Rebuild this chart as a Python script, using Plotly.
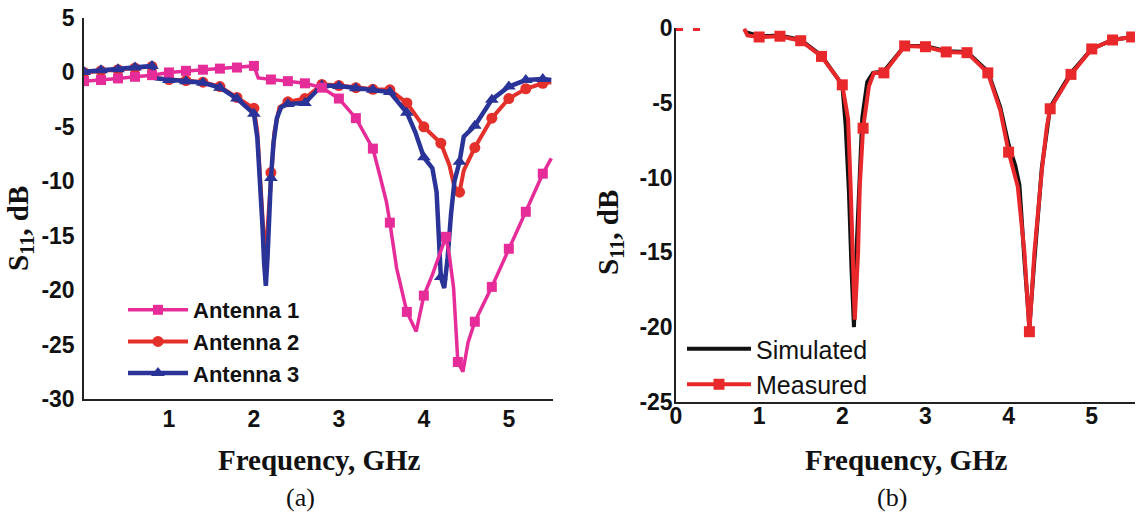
import plotly.graph_objects as go

# ---------------- (a) three antenna prototypes ----------------
a1_f = [0.0, 0.2, 0.4, 0.6, 0.8, 1.0, 1.2, 1.4, 1.6, 1.8, 2.0, 2.05, 2.2, 2.4, 2.6, 2.8, 3.0, 3.2,
        3.4, 3.48, 3.56, 3.6, 3.68, 3.8, 3.91, 4.0, 4.1, 4.2, 4.26, 4.3, 4.35, 4.4, 4.46, 4.52,
        4.6, 4.8, 5.0, 5.2, 5.4, 5.5]
a1_db = [-0.8, -0.7, -0.55, -0.4, -0.25, 0.0, 0.15, 0.25, 0.35, 0.45, 0.6, -0.5, -0.65, -0.8,
         -1.0, -1.4, -2.4, -4.2, -7.0, -9.4, -11.9, -13.8, -18.0, -22.0, -23.8, -20.5, -18.6,
         -16.4, -15.1, -16.8, -19.8, -26.6, -27.5, -24.8, -22.9, -19.7, -16.2, -12.8, -9.3, -7.9]
a1_mark_f = [0.0, 0.2, 0.4, 0.6, 0.8, 1.0, 1.2, 1.4, 1.6, 1.8, 2.0, 2.2, 2.4, 2.6, 2.8, 3.0,
             3.2, 3.4, 3.6, 3.8, 4.0, 4.26, 4.4, 4.6, 4.8, 5.0, 5.2, 5.4]

a2_f = [0.0, 0.2, 0.4, 0.6, 0.8, 0.85, 1.0, 1.2, 1.4, 1.6, 1.8, 2.0, 2.04, 2.07, 2.1, 2.13,
        2.15, 2.18, 2.2, 2.24, 2.3, 2.4, 2.6, 2.8, 3.0, 3.2, 3.4, 3.6, 3.8, 4.0, 4.2, 4.3,
        4.36, 4.42, 4.47, 4.6, 4.8, 5.0, 5.2, 5.4, 5.5]
a2_db = [0.0, 0.15, 0.25, 0.4, 0.55, -0.5, -0.65, -0.75, -0.9, -1.3, -2.3, -3.3, -5.5, -9.0,
         -13.5, -17.0, -15.5, -12.0, -9.2, -5.5, -3.2, -2.7, -2.4, -1.1, -1.2, -1.4, -1.55,
         -1.6, -2.8, -5.0, -6.5, -8.5, -10.5, -11.0, -9.0, -6.9, -4.2, -2.4, -1.5, -1.0, -0.9]
a2_mark_f = [0.0, 0.2, 0.4, 0.6, 0.8, 1.0, 1.2, 1.4, 1.6, 1.8, 2.0, 2.2, 2.4, 2.6, 2.8, 3.0,
             3.2, 3.4, 3.6, 3.8, 4.0, 4.2, 4.42, 4.6, 4.8, 5.0, 5.2, 5.4]

a3_f = [0.0, 0.2, 0.4, 0.6, 0.8, 0.85, 1.0, 1.2, 1.4, 1.6, 1.8, 2.0, 2.04, 2.07, 2.1, 2.12,
        2.14, 2.16, 2.18, 2.2, 2.23, 2.27, 2.32, 2.4, 2.6, 2.8, 3.0, 3.2, 3.4, 3.6, 3.8, 3.9,
        4.0, 4.1, 4.15, 4.2, 4.24, 4.28, 4.32, 4.36, 4.42, 4.47, 4.6, 4.8, 5.0, 5.2, 5.4, 5.5]
a3_db = [0.05, 0.2, 0.3, 0.45, 0.6, -0.55, -0.7, -0.8, -0.95, -1.4, -2.4, -3.8, -6.0, -9.5,
         -14.0, -17.5, -19.6, -17.0, -13.0, -9.7, -6.5, -4.2, -3.2, -2.9, -2.8, -1.2, -1.25,
         -1.45, -1.6, -1.8, -3.7, -5.5, -7.8, -8.8, -11.0, -18.8, -19.8, -17.0, -13.0, -10.0,
         -8.2, -5.9, -4.9, -2.5, -1.3, -0.7, -0.6, -0.7]
a3_mark_f = [0.0, 0.2, 0.4, 0.6, 0.8, 1.0, 1.2, 1.4, 1.6, 1.8, 2.0, 2.2, 2.4, 2.6, 2.8, 3.0,
             3.2, 3.4, 3.6, 3.8, 4.0, 4.2, 4.42, 4.6, 4.8, 5.0, 5.2, 5.4]

# ---------------- (b) simulated vs measured ----------------
sim_f = [0.85, 1.0, 1.25, 1.5, 1.75, 2.0, 2.04, 2.08, 2.11, 2.14, 2.17, 2.2, 2.24, 2.3, 2.37,
         2.5, 2.75, 3.0, 3.25, 3.5, 3.75, 3.9, 4.0, 4.08, 4.13, 4.19, 4.25, 4.31, 4.4, 4.5,
         4.75, 5.0, 5.25, 5.48]
sim_db = [-0.3, -0.55, -0.5, -0.8, -1.85, -3.8, -6.5, -11.0, -16.0, -20.0, -15.0, -10.5, -6.0,
          -3.6, -3.0, -2.9, -1.2, -1.2, -1.55, -1.6, -2.9, -5.3, -7.8, -9.2, -10.5, -15.5,
          -20.0, -15.5, -9.3, -5.3, -3.0, -1.4, -0.8, -0.6]

meas_f = [0.82, 0.86, 1.0, 1.25, 1.5, 1.75, 2.0, 2.07, 2.1, 2.13, 2.15, 2.19, 2.21, 2.25, 2.32,
          2.38, 2.5, 2.75, 3.0, 3.25, 3.5, 3.75, 3.9, 4.0, 4.11, 4.19, 4.25, 4.31, 4.4, 4.46,
          4.5, 4.75, 5.0, 5.25, 5.48]
meas_db = [-0.05, -0.5, -0.6, -0.55, -0.85, -1.9, -3.8, -6.1, -10.6, -16.2, -19.5, -15.0, -10.6,
           -6.7, -3.9, -3.0, -3.0, -1.2, -1.25, -1.6, -1.65, -3.0, -5.5, -8.3, -10.6, -15.0,
           -20.3, -15.0, -9.5, -6.6, -5.4, -3.1, -1.4, -0.8, -0.6]
meas_mark_f = [1.0, 1.25, 1.5, 1.75, 2.0, 2.25, 2.5, 2.75, 3.0, 3.25, 3.5, 3.75, 4.0, 4.25,
               4.5, 4.75, 5.0, 5.25, 5.48]
meas_low_f = [0.0, 0.32]
meas_low_db = [-0.1, -0.1]

left_xticks = [1, 2, 3, 4, 5]
right_xticks = [0, 1, 2, 3, 4, 5]
left_yticks = [5, 0, -5, -10, -15, -20, -25, -30]
right_yticks = [0, -5, -10, -15, -20, -25]

PINK = "#E62C99"
RED = "#E3302B"
BLUE = "#2A3397"
MRED = "#E8282A"


def pick(fs, dbs, marks):
    lookup = dict(zip(fs, dbs))
    return marks, [lookup[m] for m in marks]


def labels(vals):
    # plain hyphen-minus for negative tick labels
    return [str(v) for v in vals]


fig = go.Figure()

series_a = [
    ("Antenna 2", a2_f, a2_db, a2_mark_f, RED, "circle", 4, 11),
    ("Antenna 3", a3_f, a3_db, a3_mark_f, BLUE, "triangle-up", 4.5, 12),
    ("Antenna 1", a1_f, a1_db, a1_mark_f, PINK, "square", 3.5, 10),
]
styles = {}
for name, fs, dbs, marks, col, sym, lw, ms in series_a:
    styles[name] = (col, sym, lw, ms)
    fig.add_trace(go.Scatter(x=fs, y=dbs, mode="lines", line=dict(color=col, width=lw),
                             showlegend=False, xaxis="x", yaxis="y", hoverinfo="skip"))
    mx, my = pick(fs, dbs, marks)
    fig.add_trace(go.Scatter(x=mx, y=my, mode="markers",
                             marker=dict(color=col, symbol=sym, size=ms),
                             showlegend=False, xaxis="x", yaxis="y"))

# legend entries for panel (a)
for name in ["Antenna 1", "Antenna 2", "Antenna 3"]:
    col, sym, lw, ms = styles[name]
    fig.add_trace(go.Scatter(x=[None], y=[None], mode="lines+markers", name=name,
                             line=dict(color=col, width=lw),
                             marker=dict(color=col, symbol=sym, size=ms),
                             xaxis="x", yaxis="y", legend="legend"))

# panel (b)
fig.add_trace(go.Scatter(x=sim_f, y=sim_db, mode="lines", name="Simulated",
                         line=dict(color="#111111", width=4),
                         xaxis="x2", yaxis="y2", legend="legend2"))
fig.add_trace(go.Scatter(x=meas_f, y=meas_db, mode="lines", line=dict(color=MRED, width=4),
                         showlegend=False, xaxis="x2", yaxis="y2"))
mx, my = pick(meas_f, meas_db, meas_mark_f)
fig.add_trace(go.Scatter(x=mx, y=my, mode="markers", marker=dict(color=MRED, symbol="square", size=11),
                         showlegend=False, xaxis="x2", yaxis="y2"))
fig.add_trace(go.Scatter(x=meas_low_f, y=meas_low_db, mode="lines",
                         line=dict(color=MRED, width=3, dash="7px,10px"),
                         showlegend=False, xaxis="x2", yaxis="y2", cliponaxis=False))
fig.add_trace(go.Scatter(x=[None], y=[None], mode="lines+markers", name="Measured",
                         line=dict(color=MRED, width=4),
                         marker=dict(color=MRED, symbol="square", size=11),
                         xaxis="x2", yaxis="y2", legend="legend2"))

W, H = 1138, 519
tick_font = dict(family="Liberation Sans, Arial", size=23, color="#111111", weight="bold")
axis_common = dict(showgrid=False, zeroline=False, showline=True, linecolor="#222222",
                   linewidth=1.5, ticks="", tickfont=tick_font, fixedrange=True,
                   automargin=False)

fig.update_layout(
    width=W, height=H,
    margin=dict(l=0, r=0, t=0, b=0),
    paper_bgcolor="white", plot_bgcolor="white",
    xaxis=dict(axis_common, domain=[84 / W, 553 / W], range=[0, 5.52],
               tickvals=left_xticks, ticktext=labels(left_xticks),
               anchor="y", ticklabelstandoff=-1),
    yaxis=dict(axis_common, domain=[1 - 399 / H, 1 - 18 / H], range=[-30, 5],
               tickvals=left_yticks, ticktext=labels(left_yticks),
               anchor="x", ticklabelstandoff=3),
    xaxis2=dict(axis_common, domain=[676 / W, 1135 / W], range=[0, 5.52],
                tickvals=right_xticks, ticktext=labels(right_xticks),
                anchor="y2", ticklabelstandoff=-7),
    yaxis2=dict(axis_common, domain=[1 - 402 / H, 1 - 28 / H], range=[-25, 0],
                tickvals=right_yticks, ticktext=labels(right_yticks),
                anchor="x2", ticklabelstandoff=-3),
    legend=dict(x=123 / W, y=1 - 289 / H, xanchor="left", yanchor="top",
                bgcolor="rgba(255,255,255,0)", itemwidth=60,
                font=dict(family="Liberation Sans, Arial", size=22, color="#111111", weight="bold")),
    legend2=dict(x=682 / W, y=1 - 326 / H, xanchor="left", yanchor="top",
                 bgcolor="rgba(255,255,255,0)", itemwidth=64,
                 font=dict(family="Liberation Sans, Arial", size=25, color="#111111")),
)

serif_bold = dict(family="Liberation Serif, Times New Roman", size=29, color="#111111", weight="bold")
serif = dict(family="Liberation Serif, Times New Roman", size=26, color="#111111")
notes = [
    (319, 460, "Frequency, GHz", serif_bold, 0),
    (906, 460, "Frequency, GHz", serif_bold, 0),
    (20, 229, "S<sub>11</sub>, dB", serif_bold, -90),
    (610, 233, "S<sub>11</sub>, dB", serif_bold, -90),
    (300, 497, "(a)", serif, 0),
    (892, 497, "(b)", serif, 0),
]
for x, y, text, font, ang in notes:
    fig.add_annotation(x=x / W, y=1 - y / H, xref="paper", yref="paper", text=text,
                       showarrow=False, font=font, textangle=ang,
                       xanchor="center", yanchor="middle")

fig.write_html("out.html")
